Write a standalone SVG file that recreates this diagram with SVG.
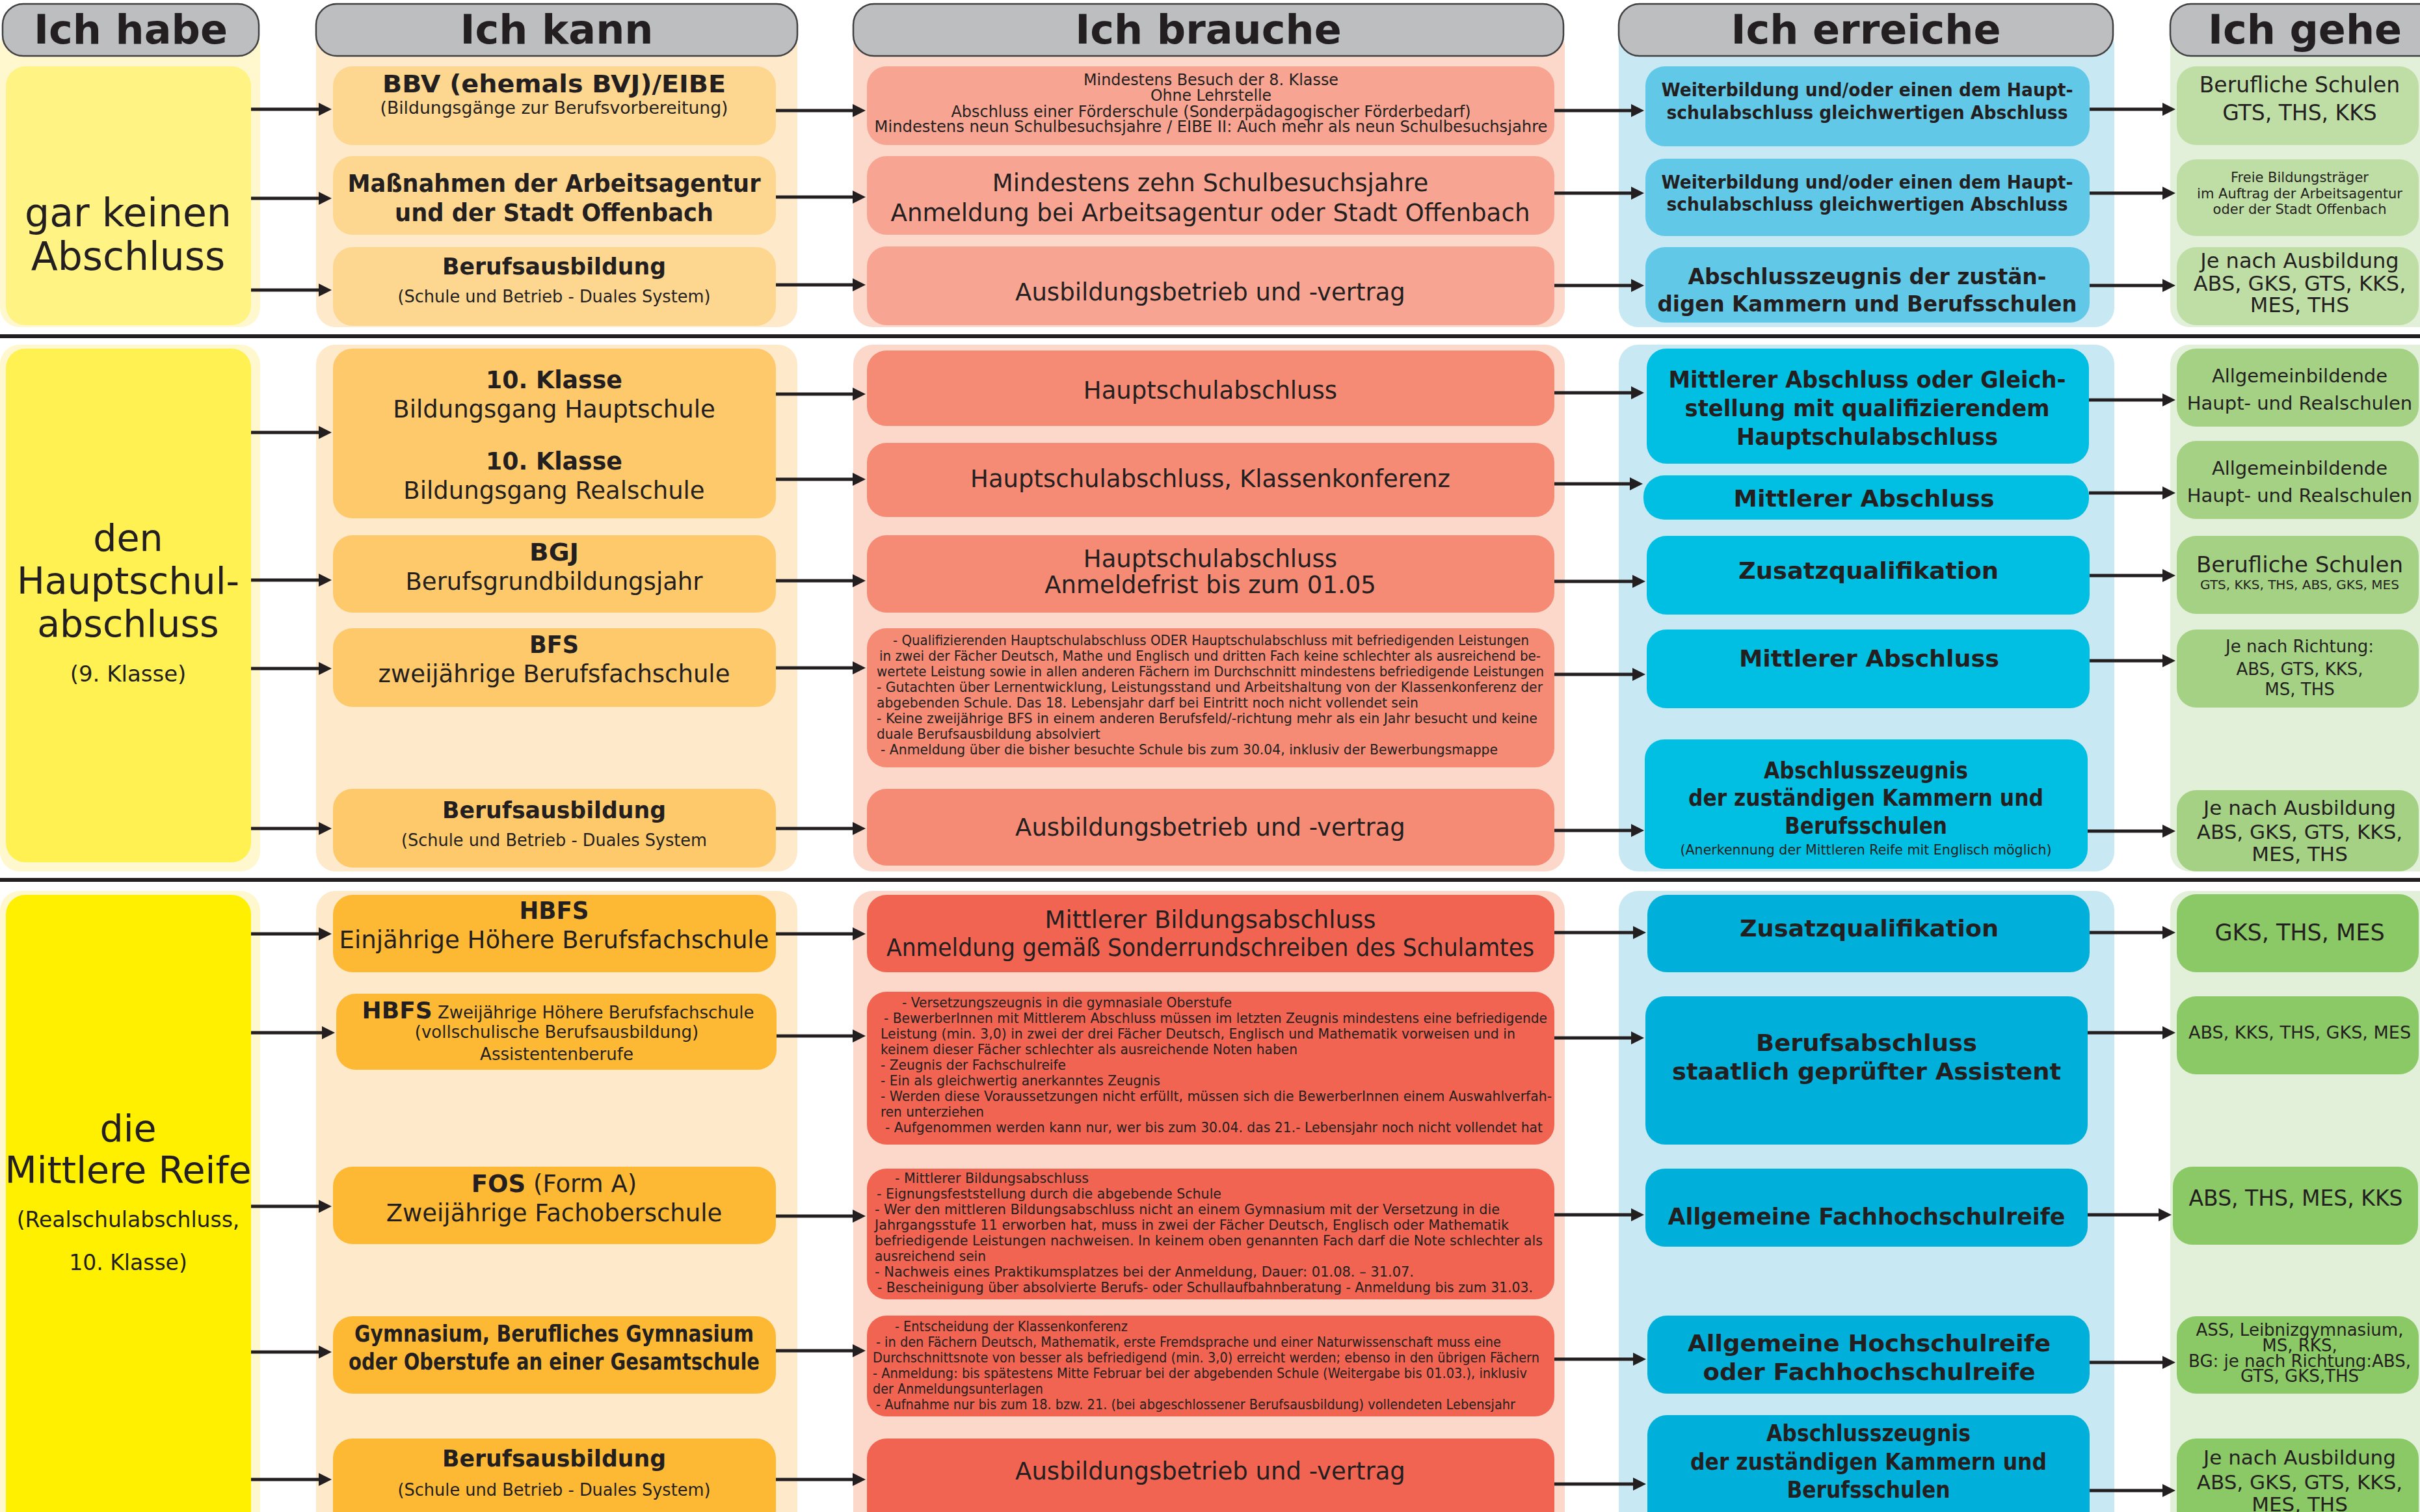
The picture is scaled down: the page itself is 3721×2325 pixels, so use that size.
<svg xmlns="http://www.w3.org/2000/svg" width="3721" height="2325" viewBox="0 0 3721 2325">
<style>
text{font-family:"DejaVu Sans",Verdana,"Liberation Sans",sans-serif;fill:#231F20}
.m{text-anchor:middle}
.b{font-weight:bold}
.hd{font-weight:bold;font-size:62px;text-anchor:middle}
.hr{fill:#BCBEC0;stroke:#414042;stroke-width:2.5}
.c{stroke:#231F20;stroke-width:5;fill:none;marker-end:url(#ah)}
.p{font-size:22px}
.bg1{fill:#FFF8CF}.bg2{fill:#FEEACB}.bg3{fill:#FCD8CA}.bg4{fill:#C8E8F3}.bg5{fill:#E2EFD9}
.y1{fill:#FFF384}.y2{fill:#FFF152}.y3{fill:#FFF000}
.o1{fill:#FDD68F}.o2{fill:#FDC96B}.o3{fill:#FDB934}
.r1{fill:#F7A592}.r2{fill:#F58A75}.r3{fill:#F16452}
.u1{fill:#62C8E8}.u2{fill:#00BFE3}.u3{fill:#00B0DA}
.g1{fill:#BFDEA6}.g2{fill:#A5D185}.g3{fill:#8BC866}
</style>
<defs>
<marker id="ah" markerUnits="userSpaceOnUse" markerWidth="22" markerHeight="22" refX="0" refY="10" orient="auto">
<path d="M0,0 L20,10 L0,20 z" fill="#231F20"/>
</marker>
</defs>
<rect x="0" y="0" width="3721" height="2325" fill="#FFFFFF"/>

<g id="column-backgrounds">
<rect class="bg1" x="0" y="40" width="400" height="463" rx="30"/>
<rect class="bg1" x="0" y="530" width="400" height="810" rx="30"/>
<rect class="bg1" x="0" y="1370" width="400" height="1000" rx="30"/>
<rect class="bg2" x="486" y="40" width="740" height="463" rx="30"/>
<rect class="bg2" x="486" y="530" width="740" height="810" rx="30"/>
<rect class="bg2" x="486" y="1370" width="740" height="1000" rx="30"/>
<rect class="bg3" x="1312" y="40" width="1094" height="463" rx="30"/>
<rect class="bg3" x="1312" y="530" width="1094" height="810" rx="30"/>
<rect class="bg3" x="1312" y="1370" width="1094" height="1000" rx="30"/>
<rect class="bg4" x="2489" y="40" width="762" height="463" rx="30"/>
<rect class="bg4" x="2489" y="530" width="762" height="810" rx="30"/>
<rect class="bg4" x="2489" y="1370" width="762" height="1000" rx="30"/>
<rect class="bg5" x="3337" y="40" width="420" height="463" rx="30"/>
<rect class="bg5" x="3337" y="530" width="420" height="810" rx="30"/>
<rect class="bg5" x="3337" y="1370" width="420" height="1000" rx="30"/>
</g>

<g id="dividers">
<line x1="0" y1="517" x2="3721" y2="517" stroke="#231F20" stroke-width="6"/>
<line x1="0" y1="1353" x2="3721" y2="1353" stroke="#231F20" stroke-width="6"/>
</g>

<g id="header-ich-habe"><rect class="hr" x="4" y="6" width="394" height="80" rx="32"/><text class="hd" x="201" y="67">Ich habe</text></g>
<g id="header-ich-kann"><rect class="hr" x="486" y="6" width="740" height="80" rx="32"/><text class="hd" x="856" y="67">Ich kann</text></g>
<g id="header-ich-brauche"><rect class="hr" x="1312" y="6" width="1092" height="80" rx="32"/><text class="hd" x="1858" y="67">Ich brauche</text></g>
<g id="header-ich-erreiche"><rect class="hr" x="2489" y="6" width="760" height="80" rx="32"/><text class="hd" x="2869" y="67">Ich erreiche</text></g>
<g id="header-ich-gehe"><rect class="hr" x="3337" y="6" width="420" height="80" rx="32"/><text class="hd" x="3544" y="67">Ich gehe</text></g>

<!-- Section 1 -->
<g id="habe-kein-abschluss"><rect class="y1" x="9" y="102" width="377" height="398" rx="30"/>
<text class="m" x="197" y="348" font-size="60">gar keinen</text>
<text class="m" x="197" y="415" font-size="60">Abschluss</text></g>

<g id="kann-bbv"><rect class="o1" x="512" y="102" width="681" height="121" rx="30"/>
<text class="m b" x="852" y="142" font-size="37" textLength="528" lengthAdjust="spacingAndGlyphs">BBV (ehemals BVJ)/EIBE</text>
<text class="m" x="852" y="175" font-size="27" textLength="535" lengthAdjust="spacingAndGlyphs">(Bildungsgänge zur Berufsvorbereitung)</text></g>
<g id="kann-massnahmen"><rect class="o1" x="512" y="240" width="681" height="121" rx="30"/>
<text class="m b" x="852" y="295" font-size="37" textLength="635" lengthAdjust="spacingAndGlyphs">Maßnahmen der Arbeitsagentur</text>
<text class="m b" x="852" y="340" font-size="37" textLength="490" lengthAdjust="spacingAndGlyphs">und der Stadt Offenbach</text></g>
<g id="kann-ausbildung-1"><rect class="o1" x="512" y="380" width="681" height="121" rx="30"/>
<text class="m b" x="852" y="422" font-size="36" textLength="344" lengthAdjust="spacingAndGlyphs">Berufsausbildung</text>
<text class="m" x="852" y="465" font-size="26" textLength="481" lengthAdjust="spacingAndGlyphs">(Schule und Betrieb - Duales System)</text></g>

<g id="brauche-1a"><rect class="r1" x="1333" y="102" width="1057" height="121" rx="30"/>
<text class="m" x="1862" y="131" font-size="24" textLength="392" lengthAdjust="spacingAndGlyphs">Mindestens Besuch der 8. Klasse</text>
<text class="m" x="1862" y="155" font-size="24" textLength="186" lengthAdjust="spacingAndGlyphs">Ohne Lehrstelle</text>
<text class="m" x="1862" y="180" font-size="24" textLength="799" lengthAdjust="spacingAndGlyphs">Abschluss einer Förderschule (Sonderpädagogischer Förderbedarf)</text>
<text class="m" x="1862" y="203" font-size="24" textLength="1035" lengthAdjust="spacingAndGlyphs">Mindestens neun Schulbesuchsjahre / EIBE II: Auch mehr als neun Schulbesuchsjahre</text></g>
<g id="brauche-1b"><rect class="r1" x="1333" y="240" width="1057" height="121" rx="30"/>
<text class="m" x="1861" y="294" font-size="37">Mindestens zehn Schulbesuchsjahre</text>
<text class="m" x="1861" y="340" font-size="37" textLength="983" lengthAdjust="spacingAndGlyphs">Anmeldung bei Arbeitsagentur oder Stadt Offenbach</text></g>
<g id="brauche-1c"><rect class="r1" x="1333" y="379" width="1057" height="121" rx="30"/>
<text class="m" x="1861" y="462" font-size="37">Ausbildungsbetrieb und -vertrag</text></g>

<g id="erreiche-1a"><rect class="u1" x="2530" y="102" width="683" height="123" rx="30"/>
<text class="m b" x="2871" y="148" font-size="28" textLength="633" lengthAdjust="spacingAndGlyphs">Weiterbildung und/oder einen dem Haupt-</text>
<text class="m b" x="2871" y="183" font-size="28" textLength="617" lengthAdjust="spacingAndGlyphs">schulabschluss gleichwertigen Abschluss</text></g>
<g id="erreiche-1b"><rect class="u1" x="2530" y="244" width="683" height="119" rx="30"/>
<text class="m b" x="2871" y="290" font-size="28" textLength="633" lengthAdjust="spacingAndGlyphs">Weiterbildung und/oder einen dem Haupt-</text>
<text class="m b" x="2871" y="324" font-size="28" textLength="617" lengthAdjust="spacingAndGlyphs">schulabschluss gleichwertigen Abschluss</text></g>
<g id="erreiche-1c"><rect class="u1" x="2530" y="380" width="683" height="116" rx="30"/>
<text class="m b" x="2871" y="437" font-size="34" textLength="551" lengthAdjust="spacingAndGlyphs">Abschlusszeugnis der zustän-</text>
<text class="m b" x="2871" y="479" font-size="34" textLength="645" lengthAdjust="spacingAndGlyphs">digen Kammern und Berufsschulen</text></g>

<g id="gehe-1a"><rect class="g1" x="3347" y="102" width="372" height="121" rx="30"/>
<text class="m" x="3536" y="142" font-size="33">Berufliche Schulen</text>
<text class="m" x="3536" y="185" font-size="33">GTS, THS, KKS</text></g>
<g id="gehe-1b"><rect class="g1" x="3347" y="245" width="372" height="118" rx="30"/>
<text class="m" x="3536" y="280" font-size="21">Freie Bildungsträger</text>
<text class="m" x="3536" y="305" font-size="21">im Auftrag der Arbeitsagentur</text>
<text class="m" x="3536" y="329" font-size="21">oder der Stadt Offenbach</text></g>
<g id="gehe-1c"><rect class="g1" x="3347" y="380" width="372" height="120" rx="30"/>
<text class="m" x="3536" y="412" font-size="32">Je nach Ausbildung</text>
<text class="m" x="3536" y="447" font-size="32">ABS, GKS, GTS, KKS,</text>
<text class="m" x="3536" y="480" font-size="32">MES, THS</text></g>

<!-- Section 2 -->
<g id="habe-hauptschulabschluss"><rect class="y2" x="9" y="536" width="377" height="790" rx="30"/>
<text class="m" x="197" y="847" font-size="57">den</text>
<text class="m" x="197" y="913" font-size="57">Hauptschul-</text>
<text class="m" x="197" y="979" font-size="57">abschluss</text>
<text class="m" x="197" y="1048" font-size="34">(9. Klasse)</text></g>

<g id="kann-10-klasse"><rect class="o2" x="512" y="536" width="681" height="261" rx="30"/>
<text class="m b" x="852" y="597" font-size="37" textLength="210" lengthAdjust="spacingAndGlyphs">10. Klasse</text>
<text class="m" x="852" y="642" font-size="37">Bildungsgang Hauptschule</text>
<text class="m b" x="852" y="722" font-size="37" textLength="210" lengthAdjust="spacingAndGlyphs">10. Klasse</text>
<text class="m" x="852" y="767" font-size="37">Bildungsgang Realschule</text></g>
<g id="kann-bgj"><rect class="o2" x="512" y="823" width="681" height="119" rx="30"/>
<text class="m b" x="852" y="862" font-size="37" textLength="76" lengthAdjust="spacingAndGlyphs">BGJ</text>
<text class="m" x="852" y="907" font-size="37">Berufsgrundbildungsjahr</text></g>
<g id="kann-bfs"><rect class="o2" x="512" y="966" width="681" height="121" rx="30"/>
<text class="m b" x="852" y="1004" font-size="37" textLength="76" lengthAdjust="spacingAndGlyphs">BFS</text>
<text class="m" x="852" y="1049" font-size="37">zweijährige Berufsfachschule</text></g>
<g id="kann-ausbildung-2"><rect class="o2" x="512" y="1213" width="681" height="121" rx="30"/>
<text class="m b" x="852" y="1258" font-size="36" textLength="344" lengthAdjust="spacingAndGlyphs">Berufsausbildung</text>
<text class="m" x="852" y="1301" font-size="26" textLength="470" lengthAdjust="spacingAndGlyphs">(Schule und Betrieb - Duales System</text></g>

<g id="brauche-2a"><rect class="r2" x="1333" y="539" width="1057" height="116" rx="30"/>
<text class="m" x="1861" y="613" font-size="37">Hauptschulabschluss</text></g>
<g id="brauche-2b"><rect class="r2" x="1333" y="681" width="1057" height="114" rx="30"/>
<text class="m" x="1861" y="749" font-size="37">Hauptschulabschluss, Klassenkonferenz</text></g>
<g id="brauche-2c"><rect class="r2" x="1333" y="823" width="1057" height="119" rx="30"/>
<text class="m" x="1861" y="872" font-size="37">Hauptschulabschluss</text>
<text class="m" x="1861" y="912" font-size="37">Anmeldefrist bis zum 01.05</text></g>
<g id="brauche-2d"><rect class="r2" x="1333" y="966" width="1057" height="214" rx="30"/>
<text class="p" x="1373" y="992" textLength="978" lengthAdjust="spacingAndGlyphs">- Qualifizierenden Hauptschulabschluss ODER Hauptschulabschluss mit befriedigenden Leistungen</text>
<text class="p" x="1352" y="1016" textLength="1017" lengthAdjust="spacingAndGlyphs">in zwei der Fächer Deutsch, Mathe und Englisch und dritten Fach keine schlechter als ausreichend be-</text>
<text class="p" x="1348" y="1040" textLength="1026" lengthAdjust="spacingAndGlyphs">wertete Leistung sowie in allen anderen Fächern im Durchschnitt mindestens befriedigende Leistungen</text>
<text class="p" x="1348" y="1064" textLength="1024" lengthAdjust="spacingAndGlyphs">- Gutachten über Lernentwicklung, Leistungsstand und Arbeitshaltung von der Klassenkonferenz der</text>
<text class="p" x="1348" y="1088" textLength="833" lengthAdjust="spacingAndGlyphs">abgebenden Schule. Das 18. Lebensjahr darf bei Eintritt noch nicht vollendet sein</text>
<text class="p" x="1348" y="1112" textLength="1016" lengthAdjust="spacingAndGlyphs">- Keine zweijährige BFS in einem anderen Berufsfeld/-richtung mehr als ein Jahr besucht und keine</text>
<text class="p" x="1348" y="1136" textLength="344" lengthAdjust="spacingAndGlyphs">duale Berufsausbildung absolviert</text>
<text class="p" x="1354" y="1160" textLength="949" lengthAdjust="spacingAndGlyphs">- Anmeldung über die bisher besuchte Schule bis zum 30.04, inklusiv der Bewerbungsmappe</text></g>
<g id="brauche-2e"><rect class="r2" x="1333" y="1213" width="1057" height="118" rx="30"/>
<text class="m" x="1861" y="1285" font-size="37">Ausbildungsbetrieb und -vertrag</text></g>

<g id="erreiche-2a"><rect class="u2" x="2532" y="536" width="680" height="177" rx="30"/>
<text class="m b" x="2871" y="596" font-size="36" textLength="611" lengthAdjust="spacingAndGlyphs">Mittlerer Abschluss oder Gleich-</text>
<text class="m b" x="2871" y="640" font-size="36" textLength="561" lengthAdjust="spacingAndGlyphs">stellung mit qualifizierendem</text>
<text class="m b" x="2871" y="684" font-size="36" textLength="402" lengthAdjust="spacingAndGlyphs">Hauptschulabschluss</text></g>
<g id="erreiche-2b"><rect class="u2" x="2527" y="731" width="685" height="68" rx="32"/>
<text class="m b" x="2866" y="779" font-size="36" textLength="401" lengthAdjust="spacingAndGlyphs">Mittlerer Abschluss</text></g>
<g id="erreiche-2c"><rect class="u2" x="2532" y="824" width="681" height="121" rx="30"/>
<text class="m b" x="2873" y="890" font-size="36" textLength="400" lengthAdjust="spacingAndGlyphs">Zusatzqualifikation</text></g>
<g id="erreiche-2d"><rect class="u2" x="2532" y="968" width="681" height="121" rx="30"/>
<text class="m b" x="2874" y="1025" font-size="36" textLength="400" lengthAdjust="spacingAndGlyphs">Mittlerer Abschluss</text></g>
<g id="erreiche-2e"><rect class="u2" x="2529" y="1137" width="681" height="199" rx="30"/>
<text class="m b" x="2869" y="1197" font-size="36" textLength="314" lengthAdjust="spacingAndGlyphs">Abschlusszeugnis</text>
<text class="m b" x="2869" y="1239" font-size="36" textLength="546" lengthAdjust="spacingAndGlyphs">der zuständigen Kammern und</text>
<text class="m b" x="2869" y="1282" font-size="36" textLength="250" lengthAdjust="spacingAndGlyphs">Berufsschulen</text>
<text class="m" x="2869" y="1314" font-size="21" textLength="571" lengthAdjust="spacingAndGlyphs">(Anerkennung der Mittleren Reife mit Englisch möglich)</text></g>

<g id="gehe-2a"><rect class="g2" x="3347" y="536" width="372" height="120" rx="30"/>
<text class="m" x="3536" y="588" font-size="29">Allgemeinbildende</text>
<text class="m" x="3536" y="630" font-size="29">Haupt- und Realschulen</text></g>
<g id="gehe-2b"><rect class="g2" x="3347" y="678" width="372" height="120" rx="30"/>
<text class="m" x="3536" y="730" font-size="29">Allgemeinbildende</text>
<text class="m" x="3536" y="772" font-size="29">Haupt- und Realschulen</text></g>
<g id="gehe-2c"><rect class="g2" x="3347" y="824" width="372" height="120" rx="30"/>
<text class="m" x="3536" y="880" font-size="34">Berufliche Schulen</text>
<text class="m" x="3536" y="906" font-size="20">GTS, KKS, THS, ABS, GKS, MES</text></g>
<g id="gehe-2d"><rect class="g2" x="3347" y="968" width="372" height="120" rx="30"/>
<text class="m" x="3536" y="1003" font-size="26">Je nach Richtung:</text>
<text class="m" x="3536" y="1038" font-size="26">ABS, GTS, KKS,</text>
<text class="m" x="3536" y="1069" font-size="26">MS, THS</text></g>
<g id="gehe-2e"><rect class="g2" x="3347" y="1215" width="372" height="125" rx="30"/>
<text class="m" x="3536" y="1253" font-size="31">Je nach Ausbildung</text>
<text class="m" x="3536" y="1290" font-size="31">ABS, GKS, GTS, KKS,</text>
<text class="m" x="3536" y="1324" font-size="31">MES, THS</text></g>

<!-- Section 3 -->
<g id="habe-mittlere-reife"><rect class="y3" x="9" y="1376" width="377" height="1000" rx="30"/>
<text class="m" x="197" y="1755" font-size="57">die</text>
<text class="m" x="197" y="1819" font-size="57">Mittlere Reife</text>
<text class="m" x="197" y="1887" font-size="33">(Realschulabschluss,</text>
<text class="m" x="197" y="1953" font-size="33">10. Klasse)</text></g>

<g id="kann-hbfs-1"><rect class="o3" x="512" y="1376" width="681" height="119" rx="30"/>
<text class="m b" x="852" y="1413" font-size="37" textLength="107" lengthAdjust="spacingAndGlyphs">HBFS</text>
<text class="m" x="852" y="1458" font-size="37">Einjährige Höhere Berufsfachschule</text></g>
<g id="kann-hbfs-2"><rect class="o3" x="517" y="1528" width="677" height="117" rx="30"/>
<text class="m" x="858" y="1566"><tspan class="b" font-size="36">HBFS</tspan><tspan font-size="26"> Zweijährige Höhere Berufsfachschule</tspan></text>
<text class="m" x="856" y="1596" font-size="26">(vollschulische Berufsausbildung)</text>
<text class="m" x="856" y="1630" font-size="26">Assistentenberufe</text></g>
<g id="kann-fos"><rect class="o3" x="512" y="1794" width="681" height="119" rx="30"/>
<text class="m" x="852" y="1833" font-size="37"><tspan class="b">FOS</tspan> (Form A)</text>
<text class="m" x="852" y="1878" font-size="37">Zweijährige Fachoberschule</text></g>
<g id="kann-gymnasium"><rect class="o3" x="512" y="2024" width="681" height="119" rx="30"/>
<text class="m b" x="852" y="2063" font-size="35" textLength="614" lengthAdjust="spacingAndGlyphs">Gymnasium, Berufliches Gymnasium</text>
<text class="m b" x="852" y="2106" font-size="35" textLength="632" lengthAdjust="spacingAndGlyphs">oder Oberstufe an einer Gesamtschule</text></g>
<g id="kann-ausbildung-3"><rect class="o3" x="512" y="2212" width="681" height="140" rx="30"/>
<text class="m b" x="852" y="2255" font-size="36" textLength="344" lengthAdjust="spacingAndGlyphs">Berufsausbildung</text>
<text class="m" x="852" y="2300" font-size="26" textLength="481" lengthAdjust="spacingAndGlyphs">(Schule und Betrieb - Duales System)</text></g>

<g id="brauche-3a"><rect class="r3" x="1333" y="1376" width="1057" height="119" rx="30"/>
<text class="m" x="1861" y="1427" font-size="37">Mittlerer Bildungsabschluss</text>
<text class="m" x="1861" y="1470" font-size="37" textLength="996" lengthAdjust="spacingAndGlyphs">Anmeldung gemäß Sonderrundschreiben des Schulamtes</text></g>
<g id="brauche-3b"><rect class="r3" x="1333" y="1525" width="1057" height="235" rx="30"/>
<text class="p" x="1387" y="1549" textLength="507" lengthAdjust="spacingAndGlyphs">- Versetzungszeugnis in die gymnasiale Oberstufe</text>
<text class="p" x="1359" y="1573" textLength="1020" lengthAdjust="spacingAndGlyphs">- BewerberInnen mit Mittlerem Abschluss müssen im letzten Zeugnis mindestens eine befriedigende</text>
<text class="p" x="1354" y="1597" textLength="976" lengthAdjust="spacingAndGlyphs">Leistung (min. 3,0) in zwei der drei Fächer Deutsch, Englisch und Mathematik vorweisen und in</text>
<text class="p" x="1354" y="1621" textLength="641" lengthAdjust="spacingAndGlyphs">keinem dieser Fächer schlechter als ausreichende Noten haben</text>
<text class="p" x="1354" y="1645" textLength="285" lengthAdjust="spacingAndGlyphs">- Zeugnis der Fachschulreife</text>
<text class="p" x="1354" y="1669" textLength="430" lengthAdjust="spacingAndGlyphs">- Ein als gleichwertig anerkanntes Zeugnis</text>
<text class="p" x="1354" y="1693" textLength="1032" lengthAdjust="spacingAndGlyphs">- Werden diese Voraussetzungen nicht erfüllt, müssen sich die BewerberInnen einem Auswahlverfah-</text>
<text class="p" x="1354" y="1717" textLength="159" lengthAdjust="spacingAndGlyphs">ren unterziehen</text>
<text class="p" x="1361" y="1741" textLength="1011" lengthAdjust="spacingAndGlyphs">- Aufgenommen werden kann nur, wer bis zum 30.04. das 21.- Lebensjahr noch nicht vollendet hat</text></g>
<g id="brauche-3c"><rect class="r3" x="1333" y="1797" width="1057" height="201" rx="30"/>
<text class="p" x="1376" y="1819" textLength="298" lengthAdjust="spacingAndGlyphs">- Mittlerer Bildungsabschluss</text>
<text class="p" x="1348" y="1843" textLength="530" lengthAdjust="spacingAndGlyphs">- Eignungsfeststellung durch die abgebende Schule</text>
<text class="p" x="1345" y="1867" textLength="961" lengthAdjust="spacingAndGlyphs">- Wer den mittleren Bildungsabschluss nicht an einem Gymnasium mit der Versetzung in die</text>
<text class="p" x="1345" y="1891" textLength="975" lengthAdjust="spacingAndGlyphs">Jahrgangsstufe 11 erworben hat, muss in zwei der Fächer Deutsch, Englisch oder Mathematik</text>
<text class="p" x="1345" y="1915" textLength="1027" lengthAdjust="spacingAndGlyphs">befriedigende Leistungen nachweisen. In keinem oben genannten Fach darf die Note schlechter als</text>
<text class="p" x="1345" y="1939" textLength="171" lengthAdjust="spacingAndGlyphs">ausreichend sein</text>
<text class="p" x="1345" y="1963" textLength="829" lengthAdjust="spacingAndGlyphs">- Nachweis eines Praktikumsplatzes bei der Anmeldung, Dauer: 01.08. – 31.07.</text>
<text class="p" x="1349" y="1987" textLength="1008" lengthAdjust="spacingAndGlyphs">- Bescheinigung über absolvierte Berufs- oder Schullaufbahnberatung - Anmeldung bis zum 31.03.</text></g>
<g id="brauche-3d"><rect class="r3" x="1333" y="2023" width="1057" height="155" rx="30"/>
<text class="p" x="1376" y="2047" textLength="358" lengthAdjust="spacingAndGlyphs">- Entscheidung der Klassenkonferenz</text>
<text class="p" x="1347" y="2071" textLength="961" lengthAdjust="spacingAndGlyphs">- in den Fächern Deutsch, Mathematik, erste Fremdsprache und einer Naturwissenschaft muss eine</text>
<text class="p" x="1342" y="2095" textLength="1025" lengthAdjust="spacingAndGlyphs">Durchschnittsnote von besser als befriedigend (min. 3,0) erreicht werden; ebenso in den übrigen Fächern</text>
<text class="p" x="1342" y="2119" textLength="1006" lengthAdjust="spacingAndGlyphs">- Anmeldung: bis spätestens Mitte Februar bei der abgebenden Schule (Weitergabe bis 01.03.), inklusiv</text>
<text class="p" x="1342" y="2143" textLength="262" lengthAdjust="spacingAndGlyphs">der Anmeldungsunterlagen</text>
<text class="p" x="1347" y="2167" textLength="983" lengthAdjust="spacingAndGlyphs">- Aufnahme nur bis zum 18. bzw. 21. (bei abgeschlossener Berufsausbildung) vollendeten Lebensjahr</text></g>
<g id="brauche-3e"><rect class="r3" x="1333" y="2212" width="1057" height="140" rx="30"/>
<text class="m" x="1861" y="2275" font-size="37">Ausbildungsbetrieb und -vertrag</text></g>

<g id="erreiche-3a"><rect class="u3" x="2533" y="1376" width="680" height="119" rx="30"/>
<text class="m b" x="2874" y="1440" font-size="36" textLength="398" lengthAdjust="spacingAndGlyphs">Zusatzqualifikation</text></g>
<g id="erreiche-3b"><rect class="u3" x="2530" y="1532" width="680" height="228" rx="30"/>
<text class="m b" x="2870" y="1616" font-size="36" textLength="340" lengthAdjust="spacingAndGlyphs">Berufsabschluss</text>
<text class="m b" x="2870" y="1660" font-size="36" textLength="598" lengthAdjust="spacingAndGlyphs">staatlich geprüfter Assistent</text></g>
<g id="erreiche-3c"><rect class="u3" x="2530" y="1797" width="680" height="120" rx="30"/>
<text class="m b" x="2870" y="1883" font-size="36" textLength="611" lengthAdjust="spacingAndGlyphs">Allgemeine Fachhochschulreife</text></g>
<g id="erreiche-3d"><rect class="u3" x="2533" y="2023" width="680" height="120" rx="30"/>
<text class="m b" x="2874" y="2078" font-size="36" textLength="558" lengthAdjust="spacingAndGlyphs">Allgemeine Hochschulreife</text>
<text class="m b" x="2874" y="2122" font-size="36" textLength="511" lengthAdjust="spacingAndGlyphs">oder Fachhochschulreife</text></g>
<g id="erreiche-3e"><rect class="u3" x="2533" y="2176" width="680" height="180" rx="30"/>
<text class="m b" x="2873" y="2216" font-size="36" textLength="314" lengthAdjust="spacingAndGlyphs">Abschlusszeugnis</text>
<text class="m b" x="2873" y="2260" font-size="36" textLength="548" lengthAdjust="spacingAndGlyphs">der zuständigen Kammern und</text>
<text class="m b" x="2873" y="2303" font-size="36" textLength="251" lengthAdjust="spacingAndGlyphs">Berufsschulen</text></g>

<g id="gehe-3a"><rect class="g3" x="3347" y="1375" width="372" height="120" rx="30"/>
<text class="m" x="3536" y="1446" font-size="35">GKS, THS, MES</text></g>
<g id="gehe-3b"><rect class="g3" x="3347" y="1532" width="372" height="120" rx="30"/>
<text class="m" x="3536" y="1597" font-size="27">ABS, KKS, THS, GKS, MES</text></g>
<g id="gehe-3c"><rect class="g3" x="3341" y="1794" width="377" height="120" rx="30"/>
<text class="m" x="3530" y="1854" font-size="33">ABS, THS, MES, KKS</text></g>
<g id="gehe-3d"><rect class="g3" x="3347" y="2024" width="372" height="119" rx="30"/>
<text class="m" x="3536" y="2054" font-size="26">ASS, Leibnizgymnasium,</text>
<text class="m" x="3536" y="2078" font-size="26">MS, RKS,</text>
<text class="m" x="3536" y="2102" font-size="26">BG: je nach Richtung:ABS,</text>
<text class="m" x="3536" y="2125" font-size="26">GTS, GKS,THS</text></g>
<g id="gehe-3e"><rect class="g3" x="3347" y="2212" width="372" height="140" rx="30"/>
<text class="m" x="3536" y="2252" font-size="31">Je nach Ausbildung</text>
<text class="m" x="3536" y="2290" font-size="31">ABS, GKS, GTS, KKS,</text>
<text class="m" x="3536" y="2324" font-size="31">MES, THS</text></g>

<g id="connectors">
<!-- section 1 -->
<path class="c" d="M386,168 H490"/>
<path class="c" d="M386,305 H490"/>
<path class="c" d="M386,446 H490"/>
<path class="c" d="M1193,170 H1311"/>
<path class="c" d="M1193,303 H1311"/>
<path class="c" d="M1193,438 H1311"/>
<path class="c" d="M2390,170 H2508"/>
<path class="c" d="M2390,297 H2508"/>
<path class="c" d="M2390,439 H2508"/>
<path class="c" d="M3213,168 H3325"/>
<path class="c" d="M3213,297 H3325"/>
<path class="c" d="M3213,439 H3325"/>
<!-- section 2 -->
<path class="c" d="M386,665 H490"/>
<path class="c" d="M386,892 H490"/>
<path class="c" d="M386,1028 H490"/>
<path class="c" d="M386,1274 H490"/>
<path class="c" d="M1193,606 H1311"/>
<path class="c" d="M1193,737 H1311"/>
<path class="c" d="M1193,893 H1311"/>
<path class="c" d="M1193,1027 H1311"/>
<path class="c" d="M1193,1274 H1311"/>
<path class="c" d="M2390,604 H2508"/>
<path class="c" d="M2390,744 H2506"/>
<path class="c" d="M2390,894 H2510"/>
<path class="c" d="M2390,1037 H2510"/>
<path class="c" d="M2390,1277 H2508"/>
<path class="c" d="M3212,615 H3325"/>
<path class="c" d="M3212,758 H3325"/>
<path class="c" d="M3213,885 H3325"/>
<path class="c" d="M3213,1016 H3325"/>
<path class="c" d="M3210,1278 H3325"/>
<!-- section 3 -->
<path class="c" d="M386,1436 H490"/>
<path class="c" d="M386,1588 H495"/>
<path class="c" d="M386,1855 H490"/>
<path class="c" d="M386,2079 H490"/>
<path class="c" d="M386,2275 H490"/>
<path class="c" d="M1193,1436 H1311"/>
<path class="c" d="M1194,1593 H1311"/>
<path class="c" d="M1193,1870 H1311"/>
<path class="c" d="M1193,2077 H1311"/>
<path class="c" d="M1193,2275 H1311"/>
<path class="c" d="M2390,1434 H2511"/>
<path class="c" d="M2390,1596 H2508"/>
<path class="c" d="M2390,1868 H2508"/>
<path class="c" d="M2390,2090 H2511"/>
<path class="c" d="M2390,2282 H2511"/>
<path class="c" d="M3213,1434 H3325"/>
<path class="c" d="M3210,1588 H3325"/>
<path class="c" d="M3210,1868 H3319"/>
<path class="c" d="M3213,2095 H3325"/>
<path class="c" d="M3213,2292 H3325"/>
</g>
</svg>
